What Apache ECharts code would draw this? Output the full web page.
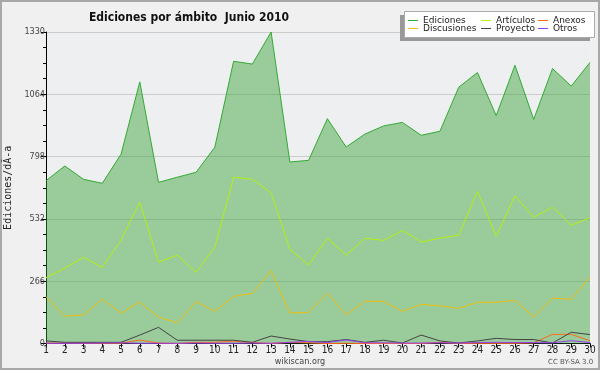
<!DOCTYPE html>
<html><head><meta charset="utf-8">
<script src="https://cdn.jsdelivr.net/npm/echarts@6/dist/echarts.min.js"></script>
<style>html,body{margin:0;padding:0;background:#f0f0f0}#c{width:600px;height:370px}</style>
</head><body><div id="c"></div>
<script>
const days = ['1','2','3','4','5','6','7','8','9','10','11','12','13','14','15','16','17','18','19','20','21','22','23','24','25','26','27','28','29','30'];
const yTicks = [0, 266, 532, 798, 1064, 1330];
const ediciones = [695,758,701,684,808,1117,688,710,731,838,1205,1193,1330,775,782,960,839,894,929,944,889,906,1094,1157,973,1188,957,1174,1099,1200];
const articulos = [281,322,368,325,442,604,347,377,304,411,710,701,644,402,335,449,377,449,440,483,433,450,462,650,458,630,539,582,505,536];
const discusiones = [200,117,122,189,130,177,113,88,179,137,201,214,310,130,133,214,122,180,180,137,167,161,150,176,176,184,113,194,189,284];
const proyecto = [11,5,5,5,5,36,69,14,14,14,14,5,32,19,8,8,17,5,14,2,36,11,2,11,22,17,17,2,48,38];
const anexos = [2,2,1,1,1,15,2,0,5,5,10,4,0,5,3,0,1,0,0,0,0,5,0,1,1,1,3,39,39,12];
const otros = [1,1,1,2,3,1,1,1,2,1,1,2,1,5,9,4,15,3,3,2,2,3,2,4,5,4,4,3,12,4];

const chart = echarts.init(document.getElementById('c'), null, {renderer:'canvas'});
const legendBase = {
  orient: 'vertical', top: 16, itemWidth: 10, itemHeight: 1, itemGap: -1, icon: 'rect',
  selectedMode: false, padding: 0,
  textStyle: {fontFamily: 'DejaVu Sans', fontSize: 9, color: '#222', lineHeight: 9}
};
function line(name, data, color, z) {
  return {name, type:'line', data, symbol:'none', z,
    lineStyle:{color, width:1}, itemStyle:{color}, animation:false};
}
chart.setOption({
  animation: false,
  backgroundColor: '#f0f0f0',
  title: {text: 'Ediciones por ámbito  Junio 2010', left: 184, top: 7, textAlign: 'center',
    textStyle: {fontFamily: 'DejaVu Sans Condensed', fontWeight: 'bold', fontSize: 12, color: '#111'}},
  graphic: [
    {type:'rect', shape:{x:1, y:1, width:598, height:368}, style:{fill:'none', stroke:'#a8a8a8', lineWidth:2}, z:-1},
    {type:'rect', shape:{x:400, y:15, width:190, height:26}, style:{fill:'#999'}, z:10},
    {type:'rect', shape:{x:404.5, y:11.5, width:190, height:26}, style:{fill:'#fff', stroke:'#aaa', lineWidth:1}, z:11},
    {type:'text', left: 'center', top: 357, style:{text:'wikiscan.org', font:'9px "DejaVu Sans Condensed"', fill:'#444'}, z:12},
    {type:'text', left: 548, top: 359, style:{text:'CC BY-SA 3.0', font:'7px "DejaVu Sans"', fill:'#555'}, z:12}
  ],
  legend: [
    Object.assign({}, legendBase, {left: 408, data: ['Ediciones','Discusiones'], z: 20}),
    Object.assign({}, legendBase, {left: 481, data: ['Artículos','Proyecto'], z: 20}),
    Object.assign({}, legendBase, {left: 538, data: ['Anexos','Otros'], z: 20})
  ],
  grid: {left: 46, right: 10, top: 32, bottom: 26.5, show: true, backgroundColor: '#eeeff1', borderWidth: 0, outerBoundsMode: 'none', containLabel: false},
  xAxis: {type:'category', data: days, boundaryGap: false,
    axisLine:{lineStyle:{color:'#000', width:1}},
    axisTick:{length:4, lineStyle:{color:'#000'}},
    axisLabel:{fontFamily:'DejaVu Sans Condensed', fontSize:10, color:'#222', margin:2, interval:0},
    splitLine:{show:false}},
  yAxis: {type:'value', min: yTicks[0], max: yTicks[yTicks.length-1], interval: yTicks[1]-yTicks[0],
    name: 'Ediciones/dÃ-a', nameLocation:'middle', nameGap: 32,
    nameTextStyle:{fontFamily:'DejaVu Sans Mono', fontSize:10, color:'#222'},
    axisLine:{show:true, lineStyle:{color:'#000', width:1}},
    axisTick:{show:true, length:5, lineStyle:{color:'#000'}},
    minorTick:{show:true, splitNumber:4, length:3, lineStyle:{color:'#000'}},
    axisLabel:{fontFamily:'DejaVu Sans Condensed', fontSize:9, color:'#444', margin:1, formatter: v => String(v)},
    splitLine:{show:true, lineStyle:{color:'#cccccc', width:1}}},
  series: [
    Object.assign(line('Ediciones', ediciones, '#33aa33', 2), {areaStyle:{color:'rgb(50,160,50)', opacity:0.45}}),
    line('Artículos', articulos, '#b4f010', 3),
    line('Anexos', anexos, '#ff6a1a', 3),
    line('Discusiones', discusiones, '#f0c010', 3),
    line('Proyecto', proyecto, '#444444', 3),
    line('Otros', otros, '#9a3cf0', 4)
  ]
});
</script></body></html>
